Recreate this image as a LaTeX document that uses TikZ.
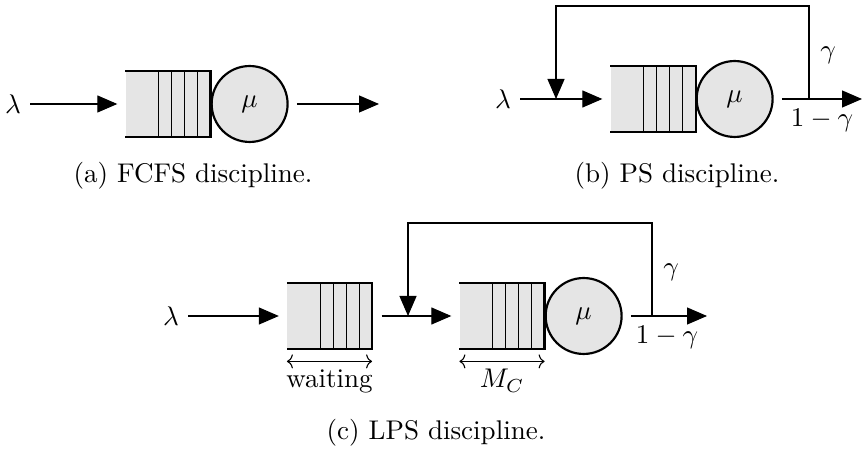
\documentclass[tikz,border=0pt]{standalone}
\usetikzlibrary{arrows.meta}
\newcommand{\qdraw}[1]{%
  \draw[qline] (#1.north west) -- (#1.north east) -- (#1.south east) -- (#1.south west);
  \foreach \k in {1,2,3,4} \draw ([xshift=-\k*4.8pt]#1.north east) -- ([xshift=-\k*4.8pt]#1.south east);
}
\begin{document}
\begin{tikzpicture}[x=0.37pt,y=-0.37pt,
  flow/.style={-{Triangle[length=7.4pt,width=6.3pt]}},
  qbox/.style={rectangle,fill=gray!20,minimum width=31.1pt,minimum height=24pt,inner sep=0pt},
  srv/.style={circle,draw,line width=0.8pt,fill=gray!20,minimum size=28.1pt,inner sep=0pt,anchor=west},
  qline/.style={line width=0.8pt},
  span/.style={{To[length=2.2pt,width=5.2pt]}-{To[length=2.2pt,width=5.2pt]}},
  captext/.style={anchor=base}]
\useasboundingbox (0,0) rectangle (863,451);
% (a) FCFS
\node (la) at (13,104) {$\lambda$};
\node[qbox] (qa) at (168,104) {};
\qdraw{qa}
\node[srv] (sa) at (qa.east) {$\mu$};
\coordinate (oa) at (379,104);
\draw[flow,shorten >=3pt] (la) -- (qa);
\draw[flow,shorten <=3pt] (sa) -- (oa);
\node[captext] (ca) at (193,183) {(a) FCFS discipline.};
% (b) PS
\node (lb) at (503,99) {$\lambda$};
\node[qbox] (qb) at (653,99) {};
\qdraw{qb}
\node[srv] (sb) at (qb.east) {$\mu$};
\coordinate (ob) at (862,99);
\coordinate (jb) at (556,99);
\coordinate (kb) at (809,99);
\coordinate (tb) at (0,6);
\draw[flow,shorten >=3pt] (lb) -- (qb);
\draw[flow,shorten <=3pt] (sb) -- (ob);
\draw[flow] (kb) -- (kb |- tb) -- (jb |- tb) -- (jb);
\node (gb) at (828,55) {$\gamma$};
\node (hb) at (822,120) {$1-\gamma$};
\node[captext] (cb) at (677,183) {(b) PS discipline.};
% (c) LPS
\node (lc) at (171,316) {$\lambda$};
\node[qbox] (qc) at (329.5,316) {};
\qdraw{qc}
\node[qbox] (qd) at (502,316) {};
\qdraw{qd}
\node[srv] (sc) at (qd.east) {$\mu$};
\coordinate (oc) at (707,316);
\coordinate (jc) at (408,316);
\coordinate (kc) at (652,316);
\coordinate (tc) at (0,223);
\draw[flow,shorten >=3pt] (lc) -- (qc);
\draw[flow,shorten <=3.5pt,shorten >=3pt] (qc) -- (qd);
\draw[flow,shorten <=3pt] (sc) -- (oc);
\draw[flow] (kc) -- (kc |- tc) -- (jc |- tc) -- (jc);
\draw[span] ([yshift=-4.6pt]qc.south west) -- ([yshift=-4.6pt]qc.south east);
\draw[span] ([yshift=-4.6pt]qd.south west) -- ([yshift=-4.6pt]qd.south east);
\node[captext] (wc) at (329.5,388) {waiting};
\node[captext] (mc) at (502,388) {$M_C$};
\node (gc) at (671,272) {$\gamma$};
\node (hc) at (667,337) {$1-\gamma$};
\node[captext] (cc) at (436,440) {(c) LPS discipline.};
\end{tikzpicture}
\end{document}
